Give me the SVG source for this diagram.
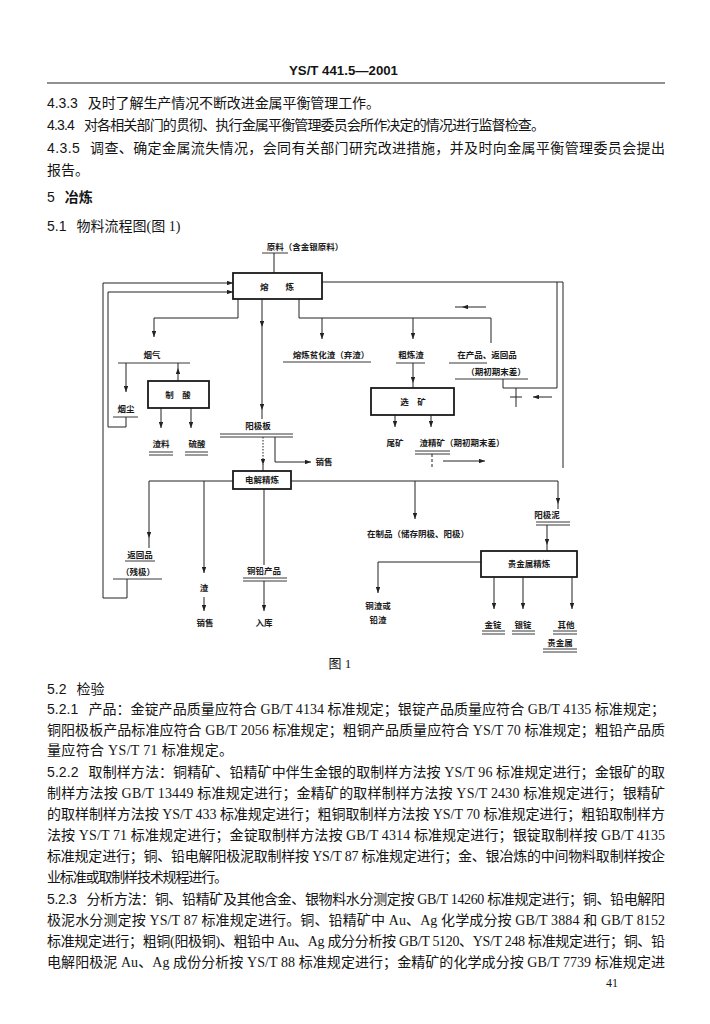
<svg xmlns="http://www.w3.org/2000/svg" width="710" height="1024" viewBox="0 0 710 1024">
<defs>
<style>
.b{font-family:"Liberation Serif","Noto Sans CJK SC",serif;font-size:14px;fill:#141414}
.n{font-family:"Liberation Sans","Noto Sans CJK SC",sans-serif}
.h{font-family:"Liberation Sans","Noto Sans CJK SC",sans-serif;font-size:13px;font-weight:bold;fill:#141414}
.l{font-family:"Noto Sans CJK SC",sans-serif;font-size:8.5px;font-weight:bold;fill:#1a1a1a;text-anchor:middle}
.bx{fill:#fff;stroke:#1a1a1a;stroke-width:1.8}
.c{fill:none;stroke:#222;stroke-width:1}
.ca{fill:none;stroke:#222;stroke-width:1;marker-end:url(#a)}
.u{fill:none;stroke:#222;stroke-width:0.9}
</style>
<marker id="a" viewBox="0 0 8 6" refX="8" refY="3" markerWidth="6" markerHeight="4.5" orient="auto" markerUnits="userSpaceOnUse"><path d="M0,0 L8,3 L0,6 Z" fill="#222"/></marker>
</defs>
<rect width="710" height="1024" fill="#fff"/>

<g id="header">
<text class="h" x="289" y="75" textLength="109" lengthAdjust="spacingAndGlyphs">YS/T 441.5—2001</text>
<line x1="47" y1="83" x2="665" y2="83" stroke="#222" stroke-width="1.2"/>
</g>

<g id="text-top" class="b">
<text x="47" y="108" textLength="333" lengthAdjust="spacing"><tspan class="n">4.3.3</tspan><tspan dx="10">及时了解生产情况不断改进金属平衡管理工作。</tspan></text>
<text x="47" y="130" textLength="498" lengthAdjust="spacing"><tspan class="n">4.3.4</tspan><tspan dx="10">对各相关部门的贯彻、执行金属平衡管理委员会所作决定的情况进行监督检查。</tspan></text>
<text x="47" y="153" textLength="618" lengthAdjust="spacing"><tspan class="n">4.3.5</tspan><tspan dx="10">调查、确定金属流失情况，会同有关部门研究改进措施，并及时向金属平衡管理委员会提出</tspan></text>
<text x="47" y="175">报告。</text>
<text x="47" y="202" font-weight="bold"><tspan class="n" font-weight="normal">5</tspan><tspan dx="10">冶炼</tspan></text>
<text x="47" y="231"><tspan class="n">5.1</tspan><tspan dx="10">物料流程图(图 1)</tspan></text>
</g>

<g id="connectors">
<path class="c" d="M274,253 V273"/>
<path class="ca" d="M127,579 V598 H103 V283 H233"/>
<path class="ca" d="M126,417 V427 H108 V292 H233"/>
<path class="ca" d="M238,299 V318 H154 V337"/>
<path class="ca" d="M126,363 V392"/>
<path class="ca" d="M178,381 V368"/>
<path class="c" d="M178,368 V363"/>
<path class="ca" d="M161,408 V428"/>
<path class="ca" d="M191,408 V428"/>
<path class="ca" d="M262,299 V327"/>
<path class="ca" d="M262,327 V410"/>
<path class="c" d="M262,410 V419"/>
<path class="c" d="M299,299 V318 H491 V343"/>
<path class="ca" d="M322,318 V339"/>
<path class="ca" d="M413,318 V339"/>
<path class="ca" d="M413,363 V383"/>
<path class="c" d="M413,383 V388"/>
<path class="ca" d="M395,415 V427"/>
<path class="ca" d="M431,415 V427"/>
<path class="c" d="M432,454 V468" stroke-dasharray="3 2"/>
<path class="ca" d="M443,461 H485"/>
<path class="c" d="M322,282 H563 V468"/>
<path class="c" d="M557,282 V388 H503 V379"/>
<path class="c" d="M510,397 H522 M516,388 V407"/>
<path class="ca" d="M552,397 H533"/>
<path class="ca" d="M486,307 H462"/>
<path class="c" d="M462,307 H455"/>
<path class="ca" d="M263,437 V465" stroke-dasharray="1.5 1.5"/>
<path class="c" d="M263,465 V471"/>
<path class="ca" d="M275,437 V462 H311"/>
<path class="ca" d="M233,481 H149 V538"/>
<path class="c" d="M149,538 V548"/>
<path class="ca" d="M291,481 H558 V504"/>
<path class="c" d="M558,504 V509"/>
<path class="ca" d="M204,481 V573" stroke-width="2"/>
<path class="ca" d="M204,597 V611"/>
<path class="c" d="M264,489 V565"/>
<path class="ca" d="M264,581 V611"/>
<path class="ca" d="M415,481 V519"/>
<path class="ca" d="M547,525 V545"/>
<path class="c" d="M547,545 V551"/>
<path class="ca" d="M481,562 H378 V593"/>
<path class="ca" d="M494,577 V609"/>
<path class="ca" d="M523,577 V609"/>
<path class="ca" d="M572,577 V609"/>
</g>

<g id="n-raw">
<text class="l" x="305" y="250">原料（含金银原料）</text>
<line class="u" x1="262" y1="253" x2="288" y2="253"/>
</g>
<g id="n-smelt">
<rect class="bx" x="233" y="273" width="89" height="26"/>
<text class="l" x="277" y="290" font-size="9">熔　　炼</text>
</g>
<g id="n-fume">
<text class="l" x="152" y="358">烟气</text>
<line class="u" x1="118" y1="363" x2="190" y2="363"/>
</g>
<g id="n-dust">
<text class="l" x="126" y="412">烟尘</text>
<line class="u" x1="113" y1="417" x2="138" y2="417"/>
</g>
<g id="n-acid">
<rect class="bx" x="148" y="381" width="61" height="27"/>
<text class="l" x="178" y="398">制　酸</text>
</g>
<g id="n-slagmat">
<text class="l" x="161" y="447">渣料</text>
<path class="u" d="M149,452 H173 M149,455 H173"/>
</g>
<g id="n-sulfuric">
<text class="l" x="197" y="447">硫酸</text>
<path class="u" d="M185,452 H208 M185,455 H208"/>
</g>
<g id="n-poorslag">
<text class="l" x="331" y="358">熔炼贫化渣（弃渣）</text>
<line class="u" x1="283" y1="362" x2="371" y2="362"/>
</g>
<g id="n-roughslag">
<text class="l" x="411" y="358">粗炼渣</text>
<line class="u" x1="396" y1="363" x2="425" y2="363"/>
</g>
<g id="n-wip">
<text class="l" x="487" y="358">在产品、返回品</text>
<line class="u" x1="449" y1="363" x2="487" y2="363"/>
<text class="l" x="496" y="375">（期初期末差）</text>
<line class="u" x1="455" y1="379" x2="528" y2="379"/>
</g>
<g id="n-dressing">
<rect class="bx" x="371" y="388" width="83" height="27"/>
<text class="l" x="413" y="405">选　矿</text>
</g>
<g id="n-tail">
<text class="l" x="395" y="446">尾矿</text>
</g>
<g id="n-conc">
<text class="l" x="462" y="446">渣精矿（期初期末差）</text>
<path class="u" d="M415,451 H450 M415,454 H450"/>
</g>
<g id="n-anode">
<text class="l" x="258" y="429">阳极板</text>
<path class="u" d="M220,434 H293 M220,437 H293"/>
</g>
<g id="n-sale1">
<text class="l" x="324" y="465">销售</text>
</g>
<g id="n-electro">
<rect class="bx" x="233" y="471" width="58" height="18"/>
<text class="l" x="262" y="483">电解精炼</text>
</g>
<g id="n-instock">
<text class="l" x="418" y="537">在制品（储存阴极、阳极）</text>
</g>
<g id="n-slime">
<text class="l" x="547" y="518">阳极泥</text>
<path class="u" d="M536,522 H570 M536,525 H570"/>
</g>
<g id="n-return">
<text class="l" x="140" y="558">返回品</text>
<line class="u" x1="125" y1="561" x2="155" y2="561"/>
<text class="l" x="138" y="575">（残极）</text>
<line class="u" x1="113" y1="579" x2="162" y2="579"/>
</g>
<g id="n-slag">
<text class="l" x="204" y="591">渣</text>
</g>
<g id="n-sale2">
<text class="l" x="205" y="626">销售</text>
</g>
<g id="n-product">
<text class="l" x="264" y="574">铜铅产品</text>
<path class="u" d="M243,578 H287 M243,581 H287"/>
</g>
<g id="n-store">
<text class="l" x="264" y="626">入库</text>
</g>
<g id="n-precious">
<rect class="bx" x="481" y="551" width="96" height="26"/>
<text class="l" x="529" y="567">贵金属精炼</text>
</g>
<g id="n-cuslag">
<text class="l" x="378" y="609">铜渣或</text>
<text class="l" x="378" y="623">铅渣</text>
</g>
<g id="n-gold">
<text class="l" x="493" y="628">金锭</text>
<path class="u" d="M482,631 H505 M482,634 H505"/>
</g>
<g id="n-silver">
<text class="l" x="523" y="628">银锭</text>
<path class="u" d="M512,631 H535 M512,634 H535"/>
</g>
<g id="n-other">
<text class="l" x="566" y="628">其他</text>
<path class="u" d="M553,631 H577 M553,634 H577"/>
<text class="l" x="560" y="646">贵金属</text>
<path class="u" d="M543,649 H577 M543,652 H577"/>
</g>

<g id="caption" class="b">
<text x="340" y="668" text-anchor="middle" font-size="13">图 1</text>
</g>

<g id="text-bottom" class="b">
<text x="47" y="694"><tspan class="n">5.2</tspan><tspan dx="10">检验</tspan></text>
<text x="47" y="714" textLength="618" lengthAdjust="spacing"><tspan class="n">5.2.1</tspan><tspan dx="10">产品：金锭产品质量应符合 GB/T 4134 标准规定；银锭产品质量应符合 GB/T 4135 标准规定；</tspan></text>
<text x="47" y="735" textLength="618" lengthAdjust="spacing">铜阳极板产品标准应符合 GB/T 2056 标准规定；粗铜产品质量应符合 YS/T 70 标准规定；粗铅产品质</text>
<text x="47" y="755" textLength="186" lengthAdjust="spacing">量应符合 YS/T 71 标准规定。</text>
<text x="47" y="777" textLength="618" lengthAdjust="spacing"><tspan class="n">5.2.2</tspan><tspan dx="10">取制样方法：铜精矿、铅精矿中伴生金银的取制样方法按 YS/T 96 标准规定进行；金银矿的取</tspan></text>
<text x="47" y="798" textLength="618" lengthAdjust="spacing">制样方法按 GB/T 13449 标准规定进行；金精矿的取样制样方法按 YS/T 2430 标准规定进行；银精矿</text>
<text x="47" y="819" textLength="618" lengthAdjust="spacing">的取样制样方法按 YS/T 433 标准规定进行；粗铜取制样方法按 YS/T 70 标准规定进行；粗铅取制样方</text>
<text x="47" y="840" textLength="618" lengthAdjust="spacing">法按 YS/T 71 标准规定进行；金锭取制样方法按 GB/T 4314 标准规定进行；银锭取制样按 GB/T 4135</text>
<text x="47" y="861" textLength="618" lengthAdjust="spacing">标准规定进行；铜、铅电解阳极泥取制样按 YS/T 87 标准规定进行；金、银冶炼的中间物料取制样按企</text>
<text x="47" y="882" textLength="181" lengthAdjust="spacing">业标准或取制样技术规程进行。</text>
<text x="47" y="904" textLength="618" lengthAdjust="spacing"><tspan class="n">5.2.3</tspan><tspan dx="10">分析方法：铜、铅精矿及其他含金、银物料水分测定按 GB/T 14260 标准规定进行；铜、铅电解阳</tspan></text>
<text x="47" y="925" textLength="618" lengthAdjust="spacing">极泥水分测定按 YS/T 87 标准规定进行。铜、铅精矿中 Au、Ag 化学成分按 GB/T 3884 和 GB/T 8152</text>
<text x="47" y="946" textLength="618" lengthAdjust="spacing">标准规定进行；粗铜(阳极铜)、粗铅中 Au、Ag 成分分析按 GB/T 5120、YS/T 248 标准规定进行；铜、铅</text>
<text x="47" y="967" textLength="618" lengthAdjust="spacing">电解阳极泥 Au、Ag 成份分析按 YS/T 88 标准规定进行；金精矿的化学成分按 GB/T 7739 标准规定进</text>
<text x="612" y="987" font-size="12" text-anchor="middle">41</text>
</g>
</svg>
